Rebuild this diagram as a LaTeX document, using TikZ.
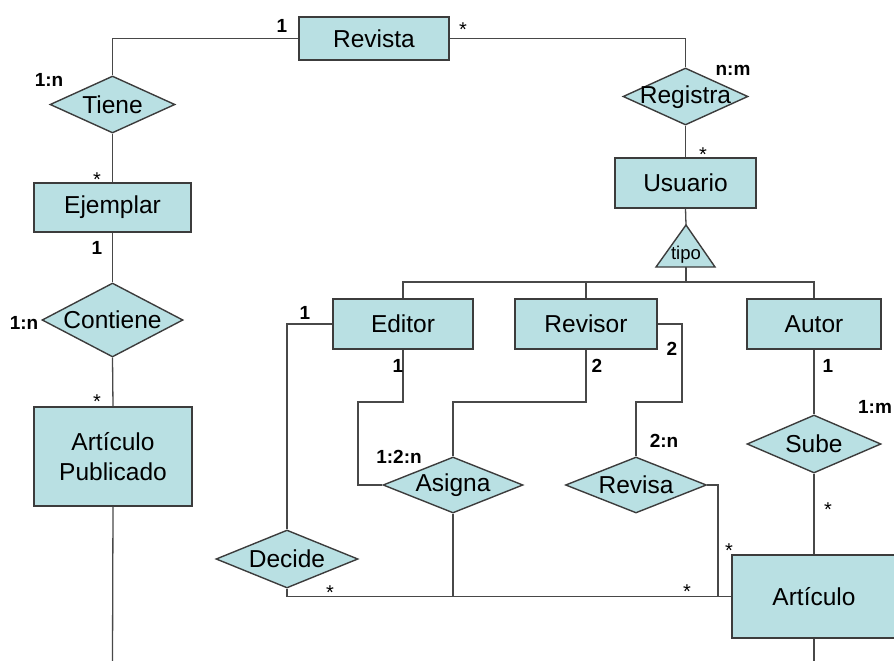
\documentclass[tikz,border=0pt]{standalone}
\usepackage{fontspec}
\setmainfont{Liberation Sans}
\usetikzlibrary{shapes.geometric}
\definecolor{fillc}{HTML}{B9E0E3}
\definecolor{bordc}{HTML}{3C3C3C}
\definecolor{linec}{HTML}{484848}
\begin{document}
\begin{tikzpicture}[x=1pt,y=-1pt,
  ent/.style={draw=bordc, line width=1.4pt, fill=fillc, inner sep=0pt, align=center,
    font=\fontsize{24.5}{29.5}\selectfont},
  rel/.style={diamond, draw=bordc, line width=1.4pt, fill=fillc, inner sep=0pt},
  reltext/.style={inner sep=0pt, font=\fontsize{24.5}{29.5}\selectfont},
  card/.style={inner sep=0pt, anchor=base, font=\fontsize{19}{22}\selectfont\bfseries},
  star/.style={inner sep=0pt, anchor=base, font=\fontsize{20}{22}\selectfont},
  conn/.style={draw=linec, line width=1.3pt}]
\useasboundingbox (0,0) rectangle (894,661);
\clip (0,0) rectangle (894,661);

% entities
\node[ent, minimum width=150pt, minimum height=43pt] (revista) at (374,38.5) {Revista};
\node[ent, minimum width=157pt, minimum height=49pt] (ejemplar) at (112.5,207.5) {Ejemplar};
\node[ent, minimum width=158pt, minimum height=99pt] (artpub) at (113,456.5) {Artículo\\Publicado};
\node[ent, minimum width=141pt, minimum height=50pt] (usuario) at (685.5,183) {Usuario};
\node[ent, minimum width=140pt, minimum height=50pt] (editor) at (403,324) {Editor};
\node[ent, minimum width=142pt, minimum height=50pt] (revisor) at (586,324) {Revisor};
\node[ent, minimum width=134pt, minimum height=50pt] (autor) at (814,324) {Autor};
\node[ent, minimum width=164pt, minimum height=83pt] (articulo) at (814,596.5) {Artículo};

% relationships
\node[rel, minimum width=125pt, minimum height=57pt] (tiene) at (112.5,104.5) {};
\node[reltext] (tieneT) at (112.5,105) {Tiene};
\node[rel, minimum width=125pt, minimum height=57pt] (registra) at (685.5,96.5) {};
\node[reltext] (registraT) at (685.5,97) {Registra};
\node[rel, minimum width=141pt, minimum height=74pt] (contiene) at (112.5,320) {};
\node[reltext] (contieneT) at (112.5,320) {Contiene};
\node[rel, minimum width=142pt, minimum height=58pt] (decide) at (287,559) {};
\node[reltext] (decideT) at (287,559) {Decide};
\node[rel, minimum width=140pt, minimum height=56pt] (asigna) at (453,485) {};
\node[reltext] (asignaT) at (453,485) {Asigna};
\node[rel, minimum width=141pt, minimum height=56pt] (revisa) at (636,485) {};
\node[reltext] (revisaT) at (636,485) {Revisa};
\node[rel, minimum width=134pt, minimum height=58pt] (sube) at (814,444) {};
\node[reltext] (subeT) at (814,444) {Sube};

% specialization triangle
\coordinate (tipoTop) at (686,225);
\coordinate (tipoL) at (656,267);
\coordinate (tipoR) at (715,267);
\coordinate (tipoBot) at (686,267);
\filldraw[fill=fillc, draw=bordc, line width=1.4pt] (tipoTop) -- (tipoR) -- (tipoL) -- cycle;
\node[inner sep=0pt, font=\fontsize{18.5}{22}\selectfont] (tipoT) at (686,255) {tipo};

% free ends and bends
\coordinate (bus) at (686,282);
\coordinate (apEnd) at (112.5,661);
\coordinate (arEnd) at (814,661);
\coordinate (e1) at (358,402);
\coordinate (r1) at (453,402);
\coordinate (r2) at (682,402);
\coordinate (r3) at (718,596.5);

% connectors
\draw[conn] (revista.west) -| (tiene.north);
\draw[conn] (revista.east) -| (registra.north);
\draw[conn] (tiene.south) -- (ejemplar.north);
\draw[conn] (ejemplar.south) -- (contiene.north);
\draw[conn] (contiene.south) -- (artpub.north);
\draw[conn] (artpub.south) -- (apEnd);
\draw[conn] (registra.south) -- (usuario.north);
\draw[conn] (usuario.south) -- (tipoTop);
\draw[conn] (tipoBot) -- (bus);
\draw[conn] (editor.north) |- (bus) -| (autor.north);
\draw[conn] (revisor.north) -- (revisor.north |- bus);
\draw[conn] (editor.west) -| (decide.north);
\draw[conn] (decide.south) |- (articulo.west);
\draw[conn] (editor.south) |- (e1) |- (asigna.west);
\draw[conn] (revisor.south) |- (r1) -- (asigna.north);
\draw[conn] (asigna.south) -- (asigna.south |- articulo.west);
\draw[conn] (revisor.east) -| (r2) -| (revisa.north);
\draw[conn] (revisa.east) -| (r3);
\draw[conn] (autor.south) -- (sube.north);
\draw[conn] (sube.south) -- (articulo.north);
\draw[conn] (articulo.south) -- (arEnd);

% cardinalities
\node[card] (c1) at (282,32.5) {1};
\node[star] (s1) at (463,37) {*};
\node[card] (c2) at (49,86.5) {1:n};
\node[card] (c3) at (733,75.5) {n:m};
\node[star] (s2) at (97,186) {*};
\node[star] (s3) at (703,161) {*};
\node[card] (c4) at (97,254.5) {1};
\node[card] (c5) at (24,329.5) {1:n};
\node[star] (s4) at (97,408) {*};
\node[card] (c6) at (305,319.5) {1};
\node[card] (c7) at (398,372.5) {1};
\node[card] (c8) at (597,372.5) {2};
\node[card] (c9) at (672,355.5) {2};
\node[card] (c10) at (828,372.5) {1};
\node[card] (c11) at (875,413.5) {1:m};
\node[card] (c12) at (399,463.5) {1:2:n};
\node[card] (c13) at (664,447.5) {2:n};
\node[star] (s5) at (828,516) {*};
\node[star] (s6) at (729,557) {*};
\node[star] (s7) at (330,599) {*};
\node[star] (s8) at (687,598) {*};
\end{tikzpicture}
\end{document}
